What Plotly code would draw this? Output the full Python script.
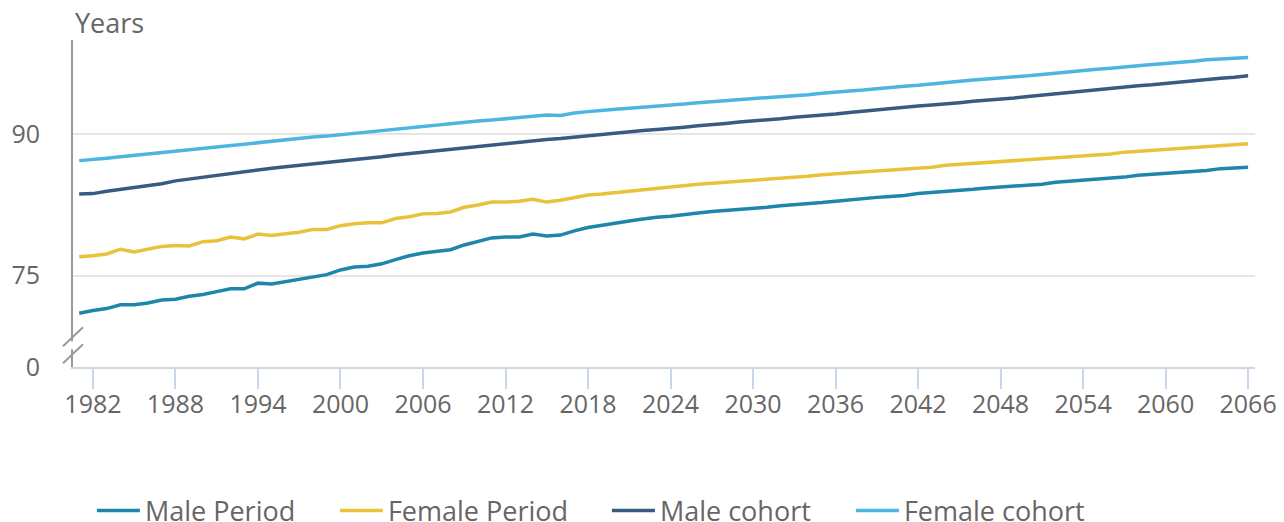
import plotly.graph_objects as go

years = list(range(1981, 2067))

male_period = [
    71.0, 71.3, 71.5, 71.9, 71.9, 72.1, 72.4, 72.5, 72.8, 73.0,
    73.3, 73.6, 73.6, 74.2, 74.1, 74.35, 74.6, 74.8, 75.1, 75.6,
    75.9, 76.0, 76.25, 76.7, 77.1, 77.4, 77.55, 77.75, 78.25, 78.65,
    79.0, 79.1, 79.1, 79.4, 79.2, 79.3, 79.75, 80.1, 80.35, 80.55,
    80.8, 81.0, 81.2, 81.3, 81.5, 81.65, 81.8, 81.9, 82.0, 82.15,
    82.25, 82.4, 82.5, 82.65, 82.75, 82.9, 83.05, 83.2, 83.3, 83.4,
    83.5, 83.7, 83.8, 83.9, 84.0, 84.15, 84.3, 84.4, 84.5, 84.6,
    84.7, 84.9, 85.0, 85.1, 85.2, 85.3, 85.45, 85.65, 85.75, 85.85,
    85.95, 86.05, 86.15, 86.35, 86.45, 86.5,
]

female_period = [
    77.0, 77.1, 77.3, 77.8, 77.5, 77.8, 78.1, 78.2, 78.15, 78.6,
    78.7, 79.1, 78.9, 79.4, 79.25, 79.45, 79.6, 79.9, 79.9, 80.3,
    80.5, 80.6, 80.6, 81.05, 81.25, 81.55, 81.6, 81.75, 82.25, 82.5,
    82.8, 82.8, 82.9, 83.1, 82.8, 83.0, 83.25, 83.55, 83.65, 83.8,
    84.0, 84.15, 84.3, 84.45, 84.55, 84.7, 84.8, 84.9, 85.0, 85.15,
    85.25, 85.35, 85.45, 85.55, 85.7, 85.8, 85.9, 86.0, 86.1, 86.2,
    86.3, 86.4, 86.5, 86.7, 86.8, 86.9, 87.0, 87.1, 87.2, 87.3,
    87.4, 87.5, 87.6, 87.7, 87.8, 87.9, 88.1, 88.2, 88.3, 88.4,
    88.5, 88.6, 88.7, 88.8, 88.9, 89.0,
]

male_cohort = [
    83.65, 83.7, 83.95, 84.15, 84.35, 84.5, 84.75, 85.05, 85.25, 85.45,
    85.65, 85.85, 86.05, 86.25, 86.4, 86.55, 86.7, 86.85, 86.95, 87.1,
    87.3, 87.45, 87.6, 87.8, 87.95, 88.1, 88.25, 88.4, 88.55, 88.7,
    88.85, 89.0, 89.2, 89.35, 89.45, 89.55, 89.7, 89.85, 89.95, 90.1,
    90.25, 90.4, 90.5, 90.6, 90.75, 90.9, 91.0, 91.15, 91.3, 91.4,
    91.55, 91.65, 91.8, 91.9, 92.0, 92.15, 92.3, 92.45, 92.55, 92.7,
    92.85, 93.0, 93.1, 93.2, 93.35, 93.5, 93.6, 93.7, 93.85, 94.0,
    94.15, 94.3, 94.45, 94.6, 94.7, 94.85, 95.0, 95.15, 95.25, 95.4,
    95.55, 95.65, 95.8, 95.95, 96.05, 96.2,
]

female_cohort = [
    87.2, 87.3, 87.45, 87.6, 87.75, 87.9, 88.05, 88.2, 88.35, 88.5,
    88.65, 88.85, 89.0, 89.15, 89.3, 89.4, 89.55, 89.7, 89.8, 89.95,
    90.1, 90.25, 90.4, 90.55, 90.65, 90.8, 90.95, 91.1, 91.25, 91.4,
    91.5, 91.65, 91.8, 91.95, 92.05, 92.0, 92.25, 92.4, 92.55, 92.65,
    92.75, 92.85, 93.0, 93.1, 93.2, 93.35, 93.45, 93.55, 93.65, 93.8,
    93.9, 94.0, 94.1, 94.2, 94.35, 94.5, 94.6, 94.7, 94.85, 95.0,
    95.1, 95.2, 95.35, 95.5, 95.65, 95.75, 95.85, 95.95, 96.05, 96.2,
    96.35, 96.5, 96.65, 96.8, 96.9, 97.0, 97.15, 97.3, 97.4, 97.5,
    97.6, 97.75, 97.9, 98.0, 98.1, 98.15,
]

series_names = ["Male Period", "Female Period", "Male cohort", "Female cohort"]
series_values = [male_period, female_period, male_cohort, female_cohort]
series_colors = ["#1f86ab", "#e8c33a", "#375c7f", "#4db6e0"]
legend_widths = [185, 214, 186, 200]

x_tick_vals = list(range(1982, 2067, 6))
y_break_value = 65.3          # bottom of the broken axis, labelled "0"
y_tick_vals = [y_break_value, 75, 90]
y_tick_text = ["0", "75", "90"]

FONT = "Open Sans"
TXT = "#666666"

fig = go.Figure()
for name, vals, col, lw in zip(series_names, series_values, series_colors, legend_widths):
    fig.add_trace(go.Scatter(
        x=years, y=vals, name=name, mode="lines",
        line=dict(color=col, width=3.5), legendwidth=lw,
    ))

# axis break markers
break_shapes = [dict(
    type="rect", xref="paper", yref="y",
    xsizemode="pixel", xanchor=0, ysizemode="pixel", yanchor=67.6,
    x0=-3, x1=3, y0=-4, y1=4,
    line=dict(width=0), fillcolor="white", layer="above",
)]
for yc in (68.5, 66.7):
    break_shapes.append(dict(
        type="line", xref="paper", yref="y",
        xsizemode="pixel", xanchor=0, ysizemode="pixel", yanchor=yc,
        x0=-10, x1=10, y0=-9.5, y1=9.5,
        line=dict(color="#999999", width=2), layer="above",
    ))

# the page body has an 8px default margin, so the figure is 8px smaller
fig.update_layout(
    width=1276, height=514,
    margin=dict(l=65, r=29, t=32, b=155, autoexpand=False),
    paper_bgcolor="white", plot_bgcolor="white",
    font=dict(family=FONT, color=TXT, size=25),
    showlegend=True,
    legend=dict(
        orientation="h", x=0.016, xanchor="left", y=-0.44, yanchor="middle",
        font=dict(family=FONT, size=27, color=TXT),
        itemwidth=43, tracegroupgap=0, itemclick=False,
    ),
    xaxis=dict(
        range=[1980.55, 2066.5], tickvals=x_tick_vals,
        showgrid=False, zeroline=False, automargin=False,
        showline=True, linecolor="#ccd6eb", linewidth=2,
        ticks="outside", ticklen=20, tickwidth=2, tickcolor="#ccd6eb",
        ticklabelstandoff=-6,
        tickfont=dict(family=FONT, size=25, color=TXT),
    ),
    yaxis=dict(
        range=[y_break_value, 100], tickvals=y_tick_vals, ticktext=y_tick_text,
        showgrid=True, gridcolor="#e6e6e6", gridwidth=2, zeroline=False,
        automargin=False,
        showline=True, linecolor="#999999", linewidth=2,
        ticks="", ticklabelstandoff=26,
        tickfont=dict(family=FONT, size=25, color=TXT),
    ),
    shapes=break_shapes,
    annotations=[dict(
        text="Years", xref="paper", yref="paper", x=0, y=1.055,
        xanchor="left", yanchor="middle", showarrow=False,
        font=dict(family=FONT, size=27, color=TXT),
    )],
)

fig.write_html("out.html")
